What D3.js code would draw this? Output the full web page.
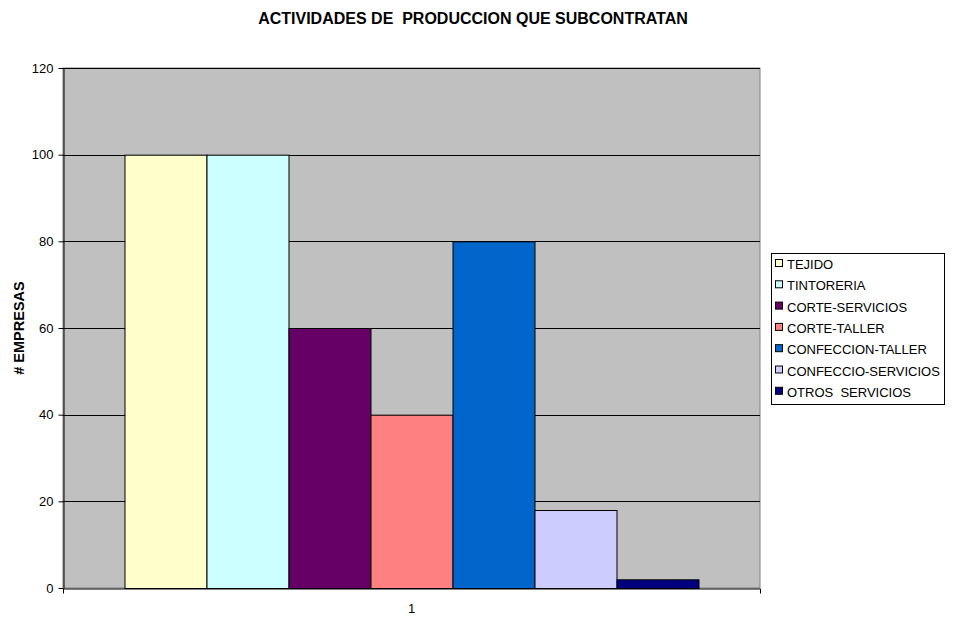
<!DOCTYPE html>
<html>
<head>
<meta charset="utf-8">
<script src="https://cdn.jsdelivr.net/npm/d3@7"></script>
<style>
  body { margin: 0; background: #fff; }
  svg { display: block; font-family: Arial, "Liberation Sans", sans-serif; }
</style>
</head>
<body>
<svg id="chart" width="953" height="617"></svg>
<script>
// Activities subcontracted (number of companies), one group "1"
const categories = ["1"];
const seriesNames = ["TEJIDO", "TINTORERIA", "CORTE-SERVICIOS", "CORTE-TALLER",
                     "CONFECCION-TALLER", "CONFECCIO-SERVICIOS", "OTROS  SERVICIOS"];
const seriesValues = [100, 100, 60, 40, 80, 18, 2];
const seriesColors = ["#FFFFCC", "#CCFFFF", "#660066", "#FF8080",
                      "#0066CC", "#CCCCFF", "#000080"];
const yTicks = [0, 20, 40, 60, 80, 100, 120];

const FONT = "Arial, 'Liberation Sans', sans-serif";
const svg = d3.select("#chart");
const plot = { left: 63, right: 760, top: 68, bottom: 588 };

const x0 = d3.scaleBand().domain(categories).range([plot.left, plot.right]).paddingInner(0).paddingOuter(0);
// gap of 1.5 bar widths around the group
const groupW = x0.bandwidth() * 7 / (7 + 1.5);
const x1 = d3.scaleBand().domain(seriesNames)
  .range([x0("1") + (x0.bandwidth() - groupW) / 2, x0("1") + (x0.bandwidth() + groupW) / 2]);
const y = d3.scaleLinear().domain([0, 120]).range([plot.bottom, plot.top]);

// plot background
svg.append("rect")
  .attr("x", plot.left).attr("y", plot.top)
  .attr("width", plot.right - plot.left).attr("height", plot.bottom - plot.top)
  .attr("fill", "#C0C0C0")
  .attr("stroke", "#808080").attr("stroke-width", 1);

// gridlines
svg.append("g").selectAll("line")
  .data(yTicks.filter(d => d > 0))
  .join("line")
  .attr("x1", plot.left).attr("x2", plot.right)
  .attr("y1", d => Math.round(y(d)) + 0.5).attr("y2", d => Math.round(y(d)) + 0.5)
  .attr("stroke", "#000").attr("stroke-width", 1);

// bars
svg.append("g").selectAll("rect")
  .data(seriesNames.map((n, i) => ({ name: n, value: seriesValues[i], color: seriesColors[i] })))
  .join("rect")
  .attr("x", d => x1(d.name) + 0.5)
  .attr("y", d => y(d.value) + 0.5)
  .attr("width", x1.bandwidth())
  .attr("height", d => y(0) - y(d.value))
  .attr("fill", d => d.color)
  .attr("stroke", "#000").attr("stroke-width", 1);

// y axis
const yAxis = svg.append("g")
  .attr("transform", `translate(${plot.left + 0.5},0)`)
  .call(d3.axisLeft(y).tickValues(yTicks).tickSize(5).tickPadding(5).tickSizeOuter(0));
yAxis.select(".domain").attr("stroke", "#000");
yAxis.selectAll("text").attr("font-size", 13).attr("fill", "#000").attr("font-family", FONT);

// x axis
const xAxis = svg.append("g")
  .attr("transform", `translate(0,${plot.bottom + 0.5})`)
  .call(d3.axisBottom(x0).tickSize(0).tickPadding(15).tickSizeOuter(5));
xAxis.select(".domain").attr("stroke", "#000");
xAxis.selectAll("text").attr("font-size", 13).attr("fill", "#000").attr("font-family", FONT);

// title
svg.append("text")
  .attr("x", 473).attr("y", 24)
  .attr("text-anchor", "middle")
  .attr("font-size", 16).attr("font-weight", "bold")
  .style("white-space", "pre")
  .text("ACTIVIDADES DE  PRODUCCION QUE SUBCONTRATAN");

// y axis title
svg.append("text")
  .attr("transform", `translate(23.5,${(plot.top + plot.bottom) / 2}) rotate(-90)`)
  .attr("text-anchor", "middle")
  .attr("font-size", 14.5).attr("font-weight", "bold")
  .text("# EMPRESAS");

// legend
const legend = svg.append("g");
legend.append("rect")
  .attr("x", 771.5).attr("y", 253.5).attr("width", 173).attr("height", 151)
  .attr("fill", "#fff").attr("stroke", "#000");
const items = legend.selectAll("g.item")
  .data(seriesNames.map((n, i) => ({ name: n, color: seriesColors[i] })))
  .join("g").attr("class", "item")
  .attr("transform", (d, i) => `translate(0,${264 + i * 21.3})`);
items.append("rect")
  .attr("x", 775.5).attr("y", -4.5).attr("width", 7).attr("height", 7)
  .attr("fill", d => d.color).attr("stroke", "#000");
items.append("text")
  .attr("x", 787).attr("y", 5)
  .attr("font-size", 13)
  .style("white-space", "pre")
  .text(d => d.name);
</script>
</body>
</html>
